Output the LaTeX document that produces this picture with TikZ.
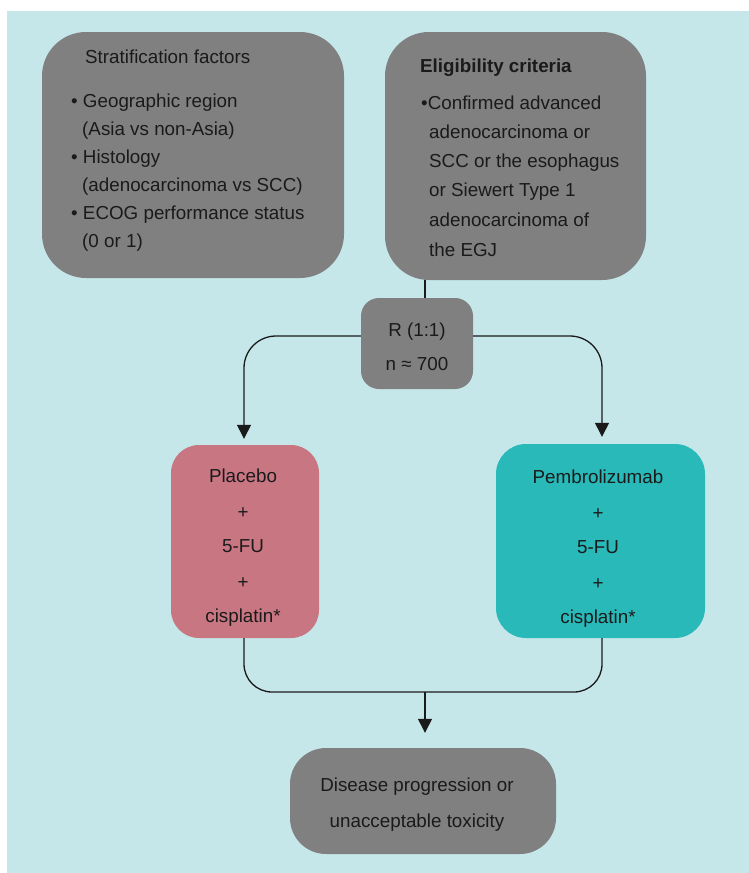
\documentclass[tikz,border=0pt]{standalone}
\usepackage{fontspec}
\setmainfont{Liberation Sans}
\usetikzlibrary{arrows.meta}
\definecolor{bgblue}{HTML}{C5E7EA}
\definecolor{boxgray}{HTML}{808080}
\definecolor{placebocol}{HTML}{C97683}
\definecolor{pembrocol}{HTML}{29B9B9}
\definecolor{txtcol}{HTML}{1A1A1A}
\definecolor{linecol}{HTML}{1A1A1A}
\begin{document}
\begin{tikzpicture}[x=1pt,y=-1pt,
  box/.style={fill=#1, draw=none, inner sep=0pt},
  txt/.style={font=\fontsize{18.8}{22}\selectfont, text=txtcol, inner sep=0pt},
  conn/.style={draw=linecol, line width=1.3pt},
  arr/.style={conn, -{Triangle[width=14pt,length=14pt]}}]
\useasboundingbox (0,0) rectangle (749,873);
\fill[bgblue] (7,11) rectangle (749,873);

% boxes
\node[box=boxgray, rounded corners=44pt, minimum width=302pt, minimum height=246pt] (strat) at (193,155) {};
\node[box=boxgray, rounded corners=44pt, minimum width=261pt, minimum height=248pt] (elig) at (515.5,156) {};
\node[box=boxgray, rounded corners=18pt, minimum width=112pt, minimum height=91pt] (r) at (417,343.5) {};
\node[box=placebocol, rounded corners=28pt, minimum width=148pt, minimum height=193pt] (plac) at (245,541.5) {};
\node[box=pembrocol, rounded corners=30pt, minimum width=209pt, minimum height=194pt] (pemb) at (600.5,541) {};
\node[box=boxgray, rounded corners=36pt, minimum width=266pt, minimum height=106pt] (fin) at (423,801) {};

% stratification text
\node[txt, anchor=base west] (st0) at (85,63) {Stratification factors};
\foreach \n/\x/\y/\t in {1/71/107/{• Geographic region},2/82/135/{(Asia vs non-Asia)},3/71/163/{• Histology},4/82/191/{(adenocarcinoma vs SCC)},5/71/219/{• ECOG performance status},6/82/247/{(0 or 1)}}
  \node[txt, anchor=base west] (st\n) at (\x,\y) {\t};

% eligibility text
\node[txt, anchor=base west, font=\fontsize{18.8}{22}\selectfont\bfseries] (el0) at (420,72) {Eligibility criteria};
\foreach \n/\x/\y/\t in {1/421/109/{•Confirmed advanced},2/429/138/{adenocarcinoma or},3/429/167/{SCC or the esophagus},4/429/196/{or Siewert Type 1},5/429/226/{adenocarcinoma of},6/429/256/{the EGJ}}
  \node[txt, anchor=base west] (el\n) at (\x,\y) {\t};

% R box text
\node[txt, anchor=base] (r1) at (417,336) {R (1:1)};
\node[txt, anchor=base] (r2) at (417,370) {n ≈ 700};

% arm texts
\foreach \n/\y/\t in {1/482/Placebo,2/518/+,3/552/5-FU,4/588/+,5/622/cisplatin*}
  \node[txt, anchor=base] (pl\n) at (243,\y) {\t};
\foreach \n/\y/\t in {1/483/Pembrolizumab,2/519/+,3/553/5-FU,4/589/+,5/623/cisplatin*}
  \node[txt, anchor=base] (pe\n) at (598,\y) {\t};

% final
\node[txt, anchor=base] (f1) at (417,791) {Disease progression or};
\node[txt, anchor=base] (f2) at (417,827) {unacceptable toxicity};

% connectors
\draw[conn] ([xshift=8pt]r.north) -- ([xshift=8pt]r.north |- elig.south);
\draw[arr, rounded corners=32pt] ([yshift=7.5pt]r.west) -| ([xshift=-1pt,yshift=6pt]plac.north);
\draw[arr, rounded corners=32pt] ([yshift=7.5pt]r.east) -| ([xshift=1.5pt,yshift=7pt]pemb.north);
\coordinate (m) at (425,692);
\draw[conn, rounded corners=28pt] ([xshift=-1pt]plac.south) |- (m) -| ([xshift=1.5pt]pemb.south);
\draw[arr] (m) -- ([xshift=2pt,yshift=15pt]fin.north);
\end{tikzpicture}
\end{document}
